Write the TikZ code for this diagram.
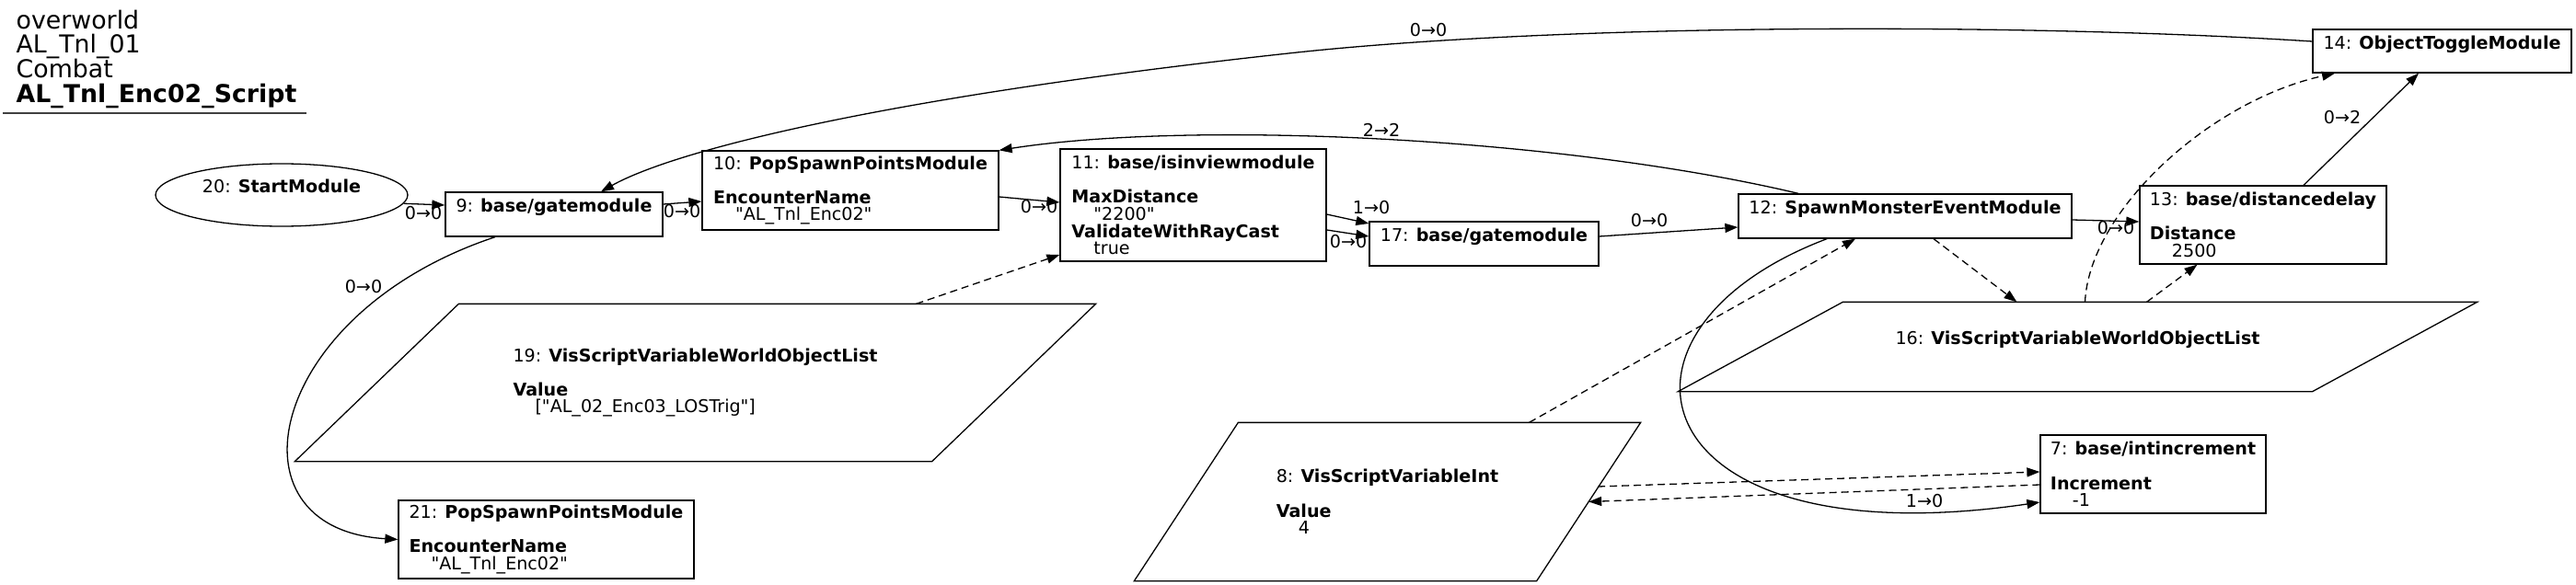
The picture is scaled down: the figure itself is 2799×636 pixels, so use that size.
\documentclass[tikz,border=0pt]{standalone}
\usepackage{fontspec}
\setmainfont{DejaVu Sans}[Ligatures=TeXOff]
\usetikzlibrary{arrows.meta,shapes.geometric,positioning}

\newcommand{\modfont}{\fontsize{19.1}{18.6}\selectfont}
\newcommand{\headfont}{\fontsize{26.8}{26.3}\selectfont}
\newcommand{\ind}{\hspace*{24pt}}

\begin{document}
\begin{tikzpicture}[x=1pt, y=-1pt, line width=1.3pt,
    box/.style={draw, rectangle, align=left, inner sep=3pt, font=\modfont},
    start/.style={draw, ellipse, align=left, inner sep=2pt, font=\modfont, minimum width=274pt, minimum height=68pt},
    para/.style={rectangle, align=left, inner sep=3pt, font=\modfont},
    arr/.style={-{Triangle[length=14pt, width=10pt]}},
    dasharr/.style={arr, dash pattern=on 8pt off 5pt},
    lbl/.style={font=\modfont, inner sep=1pt}
]
\useasboundingbox (0,0) rectangle (2799,636);

% header
\node[font=\headfont, align=left, inner sep=0pt, anchor=north west] (hdr) at (17,10)
    {overworld\\AL\_Tnl\_01\\Combat\\\textbf{AL\_Tnl\_Enc02\_Script}};
\draw[black!75, line width=2pt] (3,123) -- (333,123);

% modules
\node[start] (n20) at (306,212) {20: \textbf{StartModule}\\ \mbox{}};
\node[box, minimum width=236pt, minimum height=48pt] (n9) at (602,233) {9: \textbf{base/gatemodule}\\ \mbox{}};
\node[box, minimum width=322pt, minimum height=86pt] (n10) at (924,207)
    {10: \textbf{PopSpawnPointsModule}\\ \mbox{}\\ \textbf{EncounterName}\\ \ind"AL\_Tnl\_Enc02"};
\node[box, minimum width=289pt, minimum height=122pt] (n11) at (1296.5,223)
    {11: \textbf{base/isinviewmodule}\\ \mbox{}\\ \textbf{MaxDistance}\\ \ind"2200"\\ \textbf{ValidateWithRayCast}\\ \ind true};
\node[box, minimum width=249pt, minimum height=48pt] (n17) at (1612.5,265) {17: \textbf{base/gatemodule}\\ \mbox{}};
\node[box, minimum width=362pt, minimum height=48pt] (n12) at (2070,235) {12: \textbf{SpawnMonsterEventModule}\\ \mbox{}};
\node[box, minimum width=268pt, minimum height=85pt] (n13) at (2459,244.5)
    {13: \textbf{base/distancedelay}\\ \mbox{}\\ \textbf{Distance}\\ \ind 2500};
\node[box, minimum width=281pt, minimum height=47pt] (n14) at (2653.5,55.5) {14: \textbf{ObjectToggleModule}\\ \mbox{}};
\node[box, minimum width=245pt, minimum height=85pt] (n7) at (2339.5,515.5)
    {7: \textbf{base/intincrement}\\ \mbox{}\\ \textbf{Increment}\\ \ind -1};
\node[box, minimum width=321pt, minimum height=85pt] (n21) at (593.5,586.5)
    {21: \textbf{PopSpawnPointsModule}\\ \mbox{}\\ \textbf{EncounterName}\\ \ind"AL\_Tnl\_Enc02"};

% variables (parallelograms drawn round the node body)
\node[para, minimum width=691pt, minimum height=170pt] (n19) at (755.5,416)
    {19: \textbf{VisScriptVariableWorldObjectList}\\ \mbox{}\\ \textbf{Value}\\ \ind["AL\_02\_Enc03\_LOSTrig"]};
\draw ([xshift=-89pt]n19.south west) -- ([xshift=-89pt]n19.south east) -- ([xshift=89pt]n19.north east) -- ([xshift=89pt]n19.north west) -- cycle;
\node[para, minimum width=688pt, minimum height=96pt] (n16) at (2257.5,377)
    {16: \textbf{VisScriptVariableWorldObjectList}\\ \mbox{}};
\draw ([xshift=-89.5pt]n16.south west) -- ([xshift=-89.5pt]n16.south east) -- ([xshift=89.5pt]n16.north east) -- ([xshift=89.5pt]n16.north west) -- cycle;
\node[para, minimum width=436pt, minimum height=171pt] (n8) at (1507.5,545.5)
    {8: \textbf{VisScriptVariableInt}\\ \mbox{}\\ \textbf{Value}\\ \ind 4};
\draw ([xshift=-56.5pt]n8.south west) -- ([xshift=-56.5pt]n8.south east) -- ([xshift=56.5pt]n8.north east) -- ([xshift=56.5pt]n8.north west) -- cycle;

% flow
\draw[arr] (n20.-4) -- ([yshift=10pt]n9.west) node[lbl] at (460,232) {0→0};
\draw[arr] ([yshift=11pt]n9.east) -- ([yshift=-12pt]n10.west) node[lbl] at (741,230) {0→0};
\draw[arr] ([yshift=-7pt]n10.east) -- ([yshift=3pt]n11.west) node[lbl] at (1129,225) {0→0};
\draw[arr] ([yshift=-10pt]n11.east) -- ([yshift=22pt]n17.west) node[lbl] at (1490,226) {1→0};
\draw[arr] ([yshift=-27pt]n11.east) -- ([yshift=8pt]n17.west) node[lbl] at (1465,263) {0→0};
\draw[arr] ([yshift=8pt]n17.east) -- ([yshift=-12pt]n12.west) node[lbl] at (1792,240) {0→0};
\draw[arr] ([yshift=-4pt]n12.east) -- ([yshift=3.5pt]n13.west) node[lbl] at (2299,248) {0→0};
\draw[arr] ([xshift=44pt]n13.north) -- ([xshift=-25.5pt]n14.south) node[lbl] at (2545,128) {0→2};
\draw[arr] ([yshift=10.5pt]n14.west) .. controls (2200,25) and (1700,25) .. (1400,58)
    .. controls (950,107) and (730,165) .. ([xshift=51pt]n9.north) node[lbl] at (1552,33) {0→0};
\draw[arr] ([xshift=-116pt]n12.north) .. controls (1700,150) and (1300,130) .. (n10.north east)
    node[lbl] at (1501,141) {2→2};
\draw[arr] ([xshift=-64pt]n9.south) .. controls (290,340) and (240,575) .. (n21.west)
    node[lbl] at (395,312) {0→0};
\draw[arr] ([xshift=-85pt]n12.south) .. controls (1720,360) and (1780,610) .. ([yshift=-30.5pt]n7.west)
    node[lbl] at (2091,545) {1→0};

% variable links
\draw[dasharr] ([xshift=240pt]n19.north) -- ([yshift=-54pt]n11.west);
\draw[dasharr] ([xshift=154pt]n8.north) -- ([xshift=-54pt]n12.south);
\draw[dasharr] ([xshift=31pt]n12.south) -- ([xshift=-66pt]n16.north);
\draw[dasharr] ([xshift=8pt]n16.north) .. controls (2270,230) and (2400,110) .. ([xshift=-116.5pt]n14.south);
\draw[dasharr] ([xshift=75pt]n16.north) -- ([xshift=-71.5pt]n13.south);
\draw[dasharr] ([xshift=10pt,yshift=16.5pt]n8.east) -- ([yshift=2.5pt]n7.west);
\draw[dasharr] ([yshift=-11.5pt]n7.west) -- (n8.east);
\end{tikzpicture}
\end{document}
